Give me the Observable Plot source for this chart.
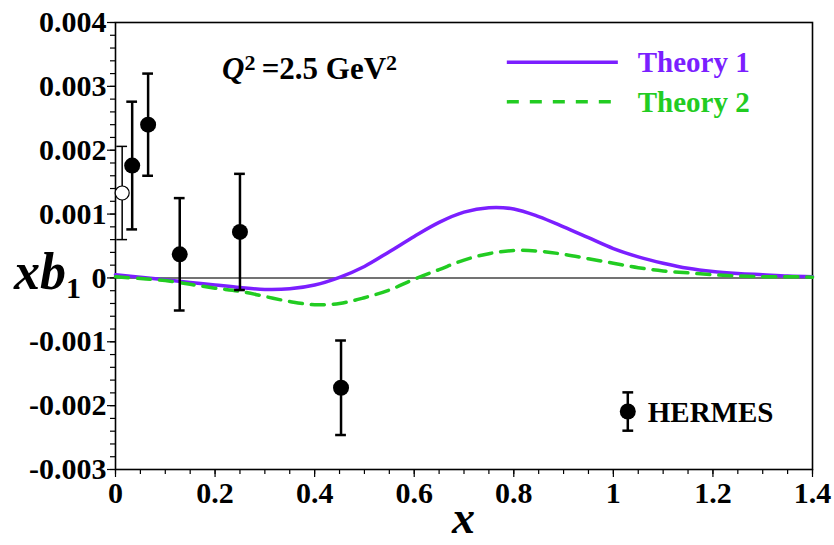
<!DOCTYPE html>
<html>
<head>
<meta charset="utf-8">
<script src="https://cdn.jsdelivr.net/npm/d3@7"></script>
<script src="https://cdn.jsdelivr.net/npm/@observablehq/plot@0.6"></script>
<style>
  html, body { margin: 0; padding: 0; background: white; }
  #chart { width: 834px; height: 545px; }
</style>
</head>
<body>
<div id="chart"></div>
<script>
// ---- Data ----
const curveX = [0,0.05,0.1,0.15,0.2,0.25,0.3,0.35,0.4,0.45,0.5,0.55,0.6,0.65,0.7,0.75,0.8,0.85,0.9,0.95,1.0,1.05,1.1,1.15,1.2,1.25,1.3,1.35,1.4];
const theory1 = [0.00005,0.00001,-0.00003,-0.00007,-0.00011,-0.00015,-0.00018,-0.00017,-0.00011,0.00001,0.00018,0.00041,0.00065,0.00087,0.00103,0.0011,0.00108,0.00096,0.0008,0.00063,0.00046,0.00033,0.00023,0.00015,0.0001,0.00007,0.00005,0.00003,0.00002];
const theory2 = [0.00002,-0.00001,-0.00004,-0.0001,-0.00016,-0.00021,-0.00029,-0.00037,-0.00042,-0.0004,-0.00031,-0.00019,-0.00002,0.00013,0.00028,0.00038,0.00043,0.00042,0.00037,0.0003,0.00023,0.00016,0.00011,0.00008,0.00005,0.00003,0.00002,0.00002,0.00001];

const hermesX   = [0.0335, 0.0655, 0.129, 0.25, 0.453];
const hermesY   = [0.00176, 0.0024, 0.00037, 0.00072, -0.00172];
const hermesErr = [0.001, 0.0008, 0.00088, 0.00091, 0.00074];

const openX   = [0.0134];
const openY   = [0.00133];
const openErr = [0.00073];

const xTicks = [0, 0.2, 0.4, 0.6, 0.8, 1, 1.2, 1.4];
const yTicks = [-0.003, -0.002, -0.001, 0, 0.001, 0.002, 0.003, 0.004];
const xMinor = d3.range(0, 29).map(i => +(i * 0.05).toFixed(2));
const yMinor = d3.range(-15, 21).map(i => +(i * 0.0002).toFixed(4));

const seriesNames = ["Theory 1", "Theory 2"];
const seriesColors = ["#7B1FFF", "#22CC22"];
const annotation = "=2.5 GeV";
const pointLabel = "HERMES";

// ---- Build tables ----
const t1 = curveX.map((x, i) => ({x, y: theory1[i]}));
const t2 = curveX.map((x, i) => ({x, y: theory2[i]}));
const hermes = hermesX.map((x, i) => ({x, y: hermesY[i], e: hermesErr[i]}));
const open = openX.map((x, i) => ({x, y: openY[i], e: openErr[i]}));
const capHalf = 0.0108;
const FONT = "'Liberation Serif', 'Times New Roman', serif";

const plot = Plot.plot({
  width: 834,
  height: 545,
  marginLeft: 115,
  marginRight: 22,
  marginTop: 22,
  marginBottom: 76,
  style: {fontFamily: FONT, fontWeight: "bold", color: "black", background: "white", overflow: "visible"},
  x: {domain: [0, 1.4]},
  y: {domain: [-0.003, 0.004]},
  marks: [
    Plot.axisX({ticks: xMinor, tickSize: 5, text: null, label: null, strokeWidth: 1.2}),
    Plot.axisX({ticks: xTicks, tickSize: 8, tickPadding: 4, label: null, strokeWidth: 1.2,
      tickFormat: d => String(+d.toFixed(1)), fontSize: 30}),
    Plot.axisY({ticks: yMinor, tickSize: 5, text: null, label: null, strokeWidth: 1.2}),
    Plot.axisY({ticks: yTicks, tickSize: 8, tickPadding: 1, label: null, strokeWidth: 1.2,
      tickFormat: d => d === 0 ? "0" : d.toFixed(3), fontSize: 30}),
    Plot.ruleY([0], {stroke: "#444", strokeWidth: 1.5}),
    Plot.frame({stroke: "black", strokeWidth: 1.6}),
    Plot.line(t1, {x: "x", y: "y", stroke: seriesColors[0], strokeWidth: 3.5, curve: "catmull-rom"}),
    Plot.line(t2, {x: "x", y: "y", stroke: seriesColors[1], strokeWidth: 3.5, curve: "catmull-rom", strokeDasharray: "13,9"}),
    // HERMES filled points
    Plot.ruleX(hermes, {x: "x", y1: d => d.y - d.e, y2: d => d.y + d.e, stroke: "black", strokeWidth: 2.5}),
    Plot.ruleY(hermes, {x1: d => d.x - capHalf, x2: d => d.x + capHalf, y: d => d.y + d.e, stroke: "black", strokeWidth: 2.5}),
    Plot.ruleY(hermes, {x1: d => d.x - capHalf, x2: d => d.x + capHalf, y: d => d.y - d.e, stroke: "black", strokeWidth: 2.5}),
    Plot.dot(hermes, {x: "x", y: "y", r: 8, fill: "black", stroke: "none"}),
    // open point
    Plot.ruleX(open, {x: "x", y1: d => d.y - d.e, y2: d => d.y + d.e, stroke: "black", strokeWidth: 1.5}),
    Plot.ruleY(open, {x1: d => d.x - capHalf, x2: d => d.x + capHalf, y: d => d.y + d.e, stroke: "black", strokeWidth: 1.5}),
    Plot.ruleY(open, {x1: d => d.x - capHalf, x2: d => d.x + capHalf, y: d => d.y - d.e, stroke: "black", strokeWidth: 1.5}),
    Plot.dot(open, {x: "x", y: "y", r: 7, fill: "white", stroke: "black", strokeWidth: 1.2})
  ]
});

document.getElementById("chart").appendChild(plot);

// ---- Annotations, legend and axis titles placed via the plot's scales ----
const sx = v => plot.scale("x").apply(v);
const sy = v => plot.scale("y").apply(v);
const svg = d3.select(plot);
const g = svg.append("g").attr("font-family", FONT).attr("font-weight", "bold").attr("text-anchor", "start");

// legend lines
const lx1 = sx(0.787), lx2 = sx(1.01);
[0.00337, 0.00275].forEach((yv, i) => {
  g.append("line").attr("x1", lx1).attr("x2", lx2).attr("y1", sy(yv)).attr("y2", sy(yv))
    .attr("stroke", seriesColors[i]).attr("stroke-width", 3.5)
    .attr("stroke-dasharray", i === 1 ? "12,11" : null);
  g.append("text").attr("x", sx(1.05)).attr("y", sy(yv)).attr("dy", "0.35em")
    .attr("fill", seriesColors[i]).attr("font-size", 29).text(seriesNames[i]);
});

// Q^2 annotation
const q = g.append("text").attr("x", sx(0.215)).attr("y", sy(0.00328)).attr("dy", "0.35em").attr("font-size", 31);
q.append("tspan").attr("font-style", "italic").text("Q");
q.append("tspan").attr("font-size", 22).attr("dy", "-0.4em").text("2");
q.append("tspan").attr("dy", "0.28em").attr("dx", "0.2em").text(annotation);
q.append("tspan").attr("font-size", 22).attr("dy", "-0.4em").text("2");

// HERMES legend
const hx = sx(1.03), hy = sy(-0.0021);
const hTop = sy(-0.0018), hBot = sy(-0.0024);
g.append("line").attr("x1", hx).attr("x2", hx).attr("y1", hTop).attr("y2", hBot).attr("stroke", "black").attr("stroke-width", 2.5);
g.append("line").attr("x1", hx - 5.4).attr("x2", hx + 5.4).attr("y1", hTop).attr("y2", hTop).attr("stroke", "black").attr("stroke-width", 2.5);
g.append("line").attr("x1", hx - 5.4).attr("x2", hx + 5.4).attr("y1", hBot).attr("y2", hBot).attr("stroke", "black").attr("stroke-width", 2.5);
g.append("circle").attr("cx", hx).attr("cy", hy).attr("r", 8).attr("fill", "black");
g.append("text").attr("x", hx + 20).attr("y", hy).attr("dy", "0.35em").attr("font-size", 29).text(pointLabel);

// axis titles
g.append("text").attr("x", sx(0.7)).attr("y", 533).attr("text-anchor", "middle")
  .attr("font-size", 46).attr("font-style", "italic").text("x");
const yl = g.append("text").attr("x", 14).attr("y", sy(0) + 12).attr("font-size", 52);
yl.append("tspan").attr("font-style", "italic").text("xb");
yl.append("tspan").attr("font-size", 30).attr("dy", "0.3em").text("1");
</script>
</body>
</html>
